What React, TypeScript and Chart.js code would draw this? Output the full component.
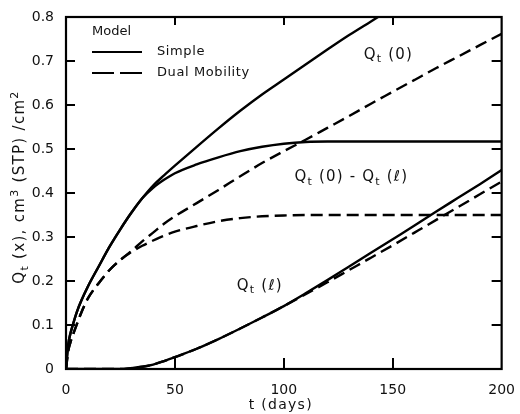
import React, { useEffect, useRef } from 'react';
import { Chart, registerables } from 'chart.js';

Chart.register(...registerables);

// ---- data ----
const tDays = [0, 1, 2, 3, 5, 7, 10, 15, 20, 25, 30, 35, 40, 45, 50, 60, 70, 80, 90, 100, 110, 120, 130, 140, 150, 160, 170, 180, 190, 200];

const simpleQ0 = [0, 0.055, 0.08, 0.098, 0.13, 0.155, 0.187, 0.233, 0.278, 0.318, 0.355, 0.388, 0.417, 0.44, 0.462, 0.505, 0.547, 0.587, 0.624, 0.658, 0.692, 0.726, 0.759, 0.79, 0.821, null, null, null, null, null];
const simpleDiff = [0, 0.055, 0.08, 0.098, 0.13, 0.155, 0.187, 0.233, 0.278, 0.318, 0.355, 0.388, 0.412, 0.43, 0.445, 0.465, 0.481, 0.495, 0.505, 0.512, 0.516, 0.517, 0.517, 0.517, 0.517, 0.517, 0.517, 0.517, 0.517, 0.517];
const simpleQL = [0, 0, 0, 0, 0, 0, 0, 0, 0, 0, 0.002, 0.005, 0.01, 0.018, 0.027, 0.046, 0.068, 0.092, 0.117, 0.143, 0.172, 0.202, 0.233, 0.264, 0.295, 0.326, 0.358, 0.389, 0.42, 0.452];

const dualQ0 = [0, 0.04, 0.06, 0.075, 0.102, 0.128, 0.16, 0.195, 0.225, 0.248, 0.268, 0.29, 0.31, 0.33, 0.347, 0.377, 0.407, 0.438, 0.468, 0.495, 0.521, 0.548, 0.575, 0.603, 0.63, 0.657, 0.684, 0.71, 0.736, 0.762];
const dualDiff = [0, 0.04, 0.06, 0.075, 0.102, 0.128, 0.16, 0.195, 0.225, 0.248, 0.266, 0.28, 0.292, 0.303, 0.312, 0.325, 0.336, 0.343, 0.347, 0.349, 0.35, 0.35, 0.35, 0.35, 0.35, 0.35, 0.35, 0.35, 0.35, 0.35];
const dualQL = [0, 0, 0, 0, 0, 0, 0, 0, 0, 0, 0.002, 0.005, 0.01, 0.018, 0.027, 0.046, 0.068, 0.092, 0.117, 0.143, 0.17, 0.197, 0.225, 0.253, 0.281, 0.31, 0.339, 0.368, 0.397, 0.426];

const xTickValues = [0, 50, 100, 150, 200];
const yTickValues = [0, 0.1, 0.2, 0.3, 0.4, 0.5, 0.6, 0.7, 0.8];

const legendTitle = 'Model';
const legendNames = ['Simple', 'Dual Mobility'];
const xTitle = 't (days)';

// rich text parts: [text, kind] kind 0 normal, 1 subscript, 2 superscript
type Part = [string, number];
const yTitleParts: Part[] = [['Q', 0], ['t', 1], [' (x), cm', 0], ['3', 2], [' (STP) /cm', 0], ['2', 2]];
const curveLabels: { parts: Part[]; t: number; v: number }[] = [
  { parts: [['Q', 0], ['t', 1], [' (0)', 0]], t: 148, v: 0.714 },
  { parts: [['Q', 0], ['t', 1], [' (0) - Q', 0], ['t', 1], [' (ℓ)', 0]], t: 131, v: 0.436 },
  { parts: [['Q', 0], ['t', 1], [' (ℓ)', 0]], t: 89, v: 0.189 },
];

const FONT = '"DejaVu Sans", sans-serif';
const INK = '#111';

function pts(vals: (number | null)[]) {
  return tDays.map((t, i) => ({ x: t, y: vals[i] }));
}

function drawRich(ctx: CanvasRenderingContext2D, parts: Part[], x: number, y: number, size: number, spacing: number) {
  const widths: number[] = [];
  let total = 0;
  for (const [txt, kind] of parts) {
    const s = kind === 0 ? size : Math.round(size * 0.7);
    ctx.font = `${s}px ${FONT}`;
    (ctx as any).letterSpacing = `${spacing}px`;
    const w = ctx.measureText(txt).width;
    widths.push(w);
    total += w;
  }
  let cx = x - total / 2;
  ctx.textAlign = 'left';
  ctx.textBaseline = 'middle';
  parts.forEach(([txt, kind], i) => {
    const s = kind === 0 ? size : Math.round(size * 0.7);
    ctx.font = `${s}px ${FONT}`;
    (ctx as any).letterSpacing = `${spacing}px`;
    const dy = kind === 1 ? size * 0.32 : kind === 2 ? -size * 0.35 : 0;
    ctx.fillText(txt, cx, y + dy);
    cx += widths[i];
  });
  (ctx as any).letterSpacing = '0px';
}

const decorPlugin = {
  id: 'decor',
  beforeDraw(chart: any) {
    const ctx = chart.ctx;
    ctx.save();
    ctx.fillStyle = '#fff';
    ctx.fillRect(0, 0, chart.width, chart.height);
    ctx.restore();
  },
  afterDraw(chart: any) {
    const ctx: CanvasRenderingContext2D = chart.ctx;
    const { left, right, top, bottom } = chart.chartArea;
    const xs = chart.scales.x;
    const ys = chart.scales.y;
    ctx.save();
    ctx.setLineDash([]);
    ctx.strokeStyle = '#000';
    ctx.fillStyle = '#000';
    // frame
    ctx.lineWidth = 2.2;
    ctx.strokeRect(left, top, right - left, bottom - top);
    // inward ticks (filled rectangles)
    yTickValues.slice(1, -1).forEach((v) => {
      const py = Math.round(ys.getPixelForValue(v));
      ctx.fillRect(left, py - 1, 9, 2);
      ctx.fillRect(right - 10, py - 1, 10, 2);
    });
    xTickValues.slice(1, -1).forEach((v) => {
      const px = Math.round(xs.getPixelForValue(v));
      ctx.fillRect(px - 1, bottom - 11, 2, 11);
      ctx.fillRect(px - 1, top, 2, 8);
    });

    ctx.fillStyle = INK;
    // legend
    const lx = left + 26;
    ctx.font = `13px ${FONT}`;
    ctx.textAlign = 'left';
    ctx.textBaseline = 'middle';
    ctx.fillText(legendTitle, lx, top + 15);
    ctx.lineWidth = 2.2;
    ctx.beginPath();
    ctx.moveTo(lx, top + 35);
    ctx.lineTo(lx + 50, top + 35);
    ctx.stroke();
    ctx.setLineDash([22, 6]);
    ctx.beginPath();
    ctx.moveTo(lx, top + 56);
    ctx.lineTo(lx + 50, top + 56);
    ctx.stroke();
    ctx.setLineDash([]);
    (ctx as any).letterSpacing = '0.6px';
    ctx.fillText(legendNames[0], lx + 65, top + 35);
    ctx.fillText(legendNames[1], lx + 65, top + 56);
    (ctx as any).letterSpacing = '0px';

    // curve labels
    curveLabels.forEach((l) => {
      drawRich(ctx, l.parts, xs.getPixelForValue(l.t), ys.getPixelForValue(l.v), 15, 1.2);
    });

    // x title
    ctx.font = `14px ${FONT}`;
    (ctx as any).letterSpacing = '1.3px';
    ctx.textAlign = 'center';
    ctx.textBaseline = 'middle';
    ctx.fillText(xTitle, (left + right) / 2 - 3, bottom + 36);
    (ctx as any).letterSpacing = '0px';

    // y title
    ctx.save();
    ctx.translate(20, 187);
    ctx.rotate(-Math.PI / 2);
    drawRich(ctx, yTitleParts, 0, 0, 15, 1.3);
    ctx.restore();

    ctx.restore();
  },
};

export default function App() {
  const ref = useRef<HTMLCanvasElement | null>(null);
  useEffect(() => {
    if (!ref.current) return;
    const solid = { borderColor: '#000', borderWidth: 2.4, pointRadius: 0, fill: false, cubicInterpolationMode: 'monotone' as const, spanGaps: false };
    const dashed = { ...solid, borderDash: [12, 6] };
    const chart = new Chart(ref.current, {
      type: 'line',
      data: {
        datasets: [
          { label: 'Simple Qt(0)', data: pts(simpleQ0), ...solid },
          { label: 'Simple Qt(0)-Qt(l)', data: pts(simpleDiff), ...solid },
          { label: 'Simple Qt(l)', data: pts(simpleQL), ...solid },
          { label: 'Dual Qt(0)', data: pts(dualQ0), ...dashed },
          { label: 'Dual Qt(0)-Qt(l)', data: pts(dualDiff), ...dashed },
          { label: 'Dual Qt(l)', data: pts(dualQL), ...dashed },
        ] as any,
      },
      options: {
        responsive: false,
        animation: false,
        layout: { padding: { top: 17, right: 14, left: 0, bottom: 0 } },
        plugins: { legend: { display: false }, tooltip: { enabled: false } },
        scales: {
          x: {
            type: 'linear',
            min: 0,
            max: 200,
            grid: { display: false },
            border: { display: false },
            afterFit: (s: any) => { s.height = 45; },
            afterBuildTicks: (s: any) => { s.ticks = xTickValues.map((v) => ({ value: v })); },
            ticks: { color: INK, font: { family: FONT, size: 14 }, padding: 5, maxRotation: 0, autoSkip: false, callback: (v: any) => String(v) },
          },
          y: {
            type: 'linear',
            min: 0,
            max: 0.8,
            grid: { display: false },
            border: { display: false },
            afterFit: (s: any) => { s.width = 66; },
            afterBuildTicks: (s: any) => { s.ticks = yTickValues.map((v) => ({ value: v })); },
            ticks: { color: INK, font: { family: FONT, size: 14 }, padding: 4, autoSkip: false, callback: (v: any) => (Number(v) === 0 ? '0' : Number(v).toFixed(1)) },
          },
        },
      },
      plugins: [decorPlugin],
    });
    return () => chart.destroy();
  }, []);
  return (
    <div style={{ position: 'fixed', left: 0, top: 0, width: 520, height: 414, background: '#fff' }}>
      <canvas ref={ref} width={520} height={414} style={{ width: 520, height: 414, display: 'block' }} />
    </div>
  );
}
